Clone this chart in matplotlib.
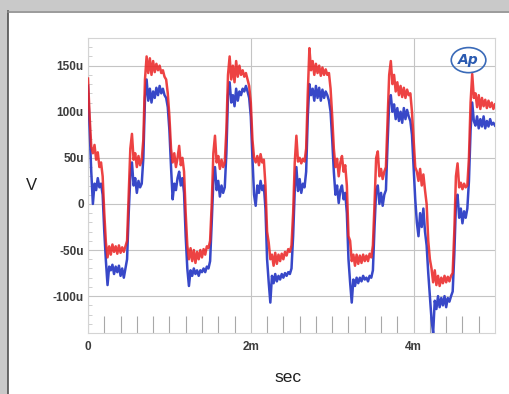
import numpy as np
import matplotlib
matplotlib.use("Agg")
import matplotlib.pyplot as plt
from matplotlib.patches import Rectangle, Ellipse

# time step between samples (ms)
dt_ms = 0.02

# red channel (uV), sampled every 0.02 ms from 0 to 5 ms
red = [
    136, 95, 62, 55, 64, 48, 56, 40, 45, 30,
    -10, -42, -58, -46, -55, -44, -52, -46, -54, -45,
    -53, -47, -52, -46, -40, 10, 60, 76, 48, 55,
    40, 52, 42, 48, 70, 135, 160, 142, 158, 140,
    155, 143, 152, 145, 150, 142, 145, 138, 135, 120,
    95, 60, 45, 55, 40, 50, 63, 42, 50, 35,
    -10, -45, -60, -48, -62, -50, -64, -52, -60, -50,
    -58, -49, -55, -46, -48, -40, 0, 55, 74, 45,
    52, 38, 48, 40, 45, 80, 140, 160, 135, 150,
    132, 155, 138, 150, 140, 145, 138, 142, 135, 128,
    110, 70, 50, 45, 52, 42, 54, 45, 48, 20,
    -30, -42, -60, -55, -67, -53, -65, -55, -62, -54,
    -60, -52, -56, -49, -52, -45, -10, 45, 74, 46,
    50, 44, 49, 46, 60, 120, 169, 145, 155, 140,
    152, 142, 150, 139, 148, 140, 146, 140, 142, 125,
    95, 60, 40, 49, 30, 45, 52, 35, 42, 20,
    -35, -40, -62, -55, -67, -55, -65, -56, -64, -55,
    -62, -56, -62, -54, -58, -45, 0, 50, 57, 30,
    38, 27, 35, 40, 90, 140, 155, 130, 140, 122,
    132, 118, 128, 116, 126, 115, 124, 118, 120, 100,
    70, 40, 35, 25, 38, 20, 32, 15, 0, -40,
    -60, -70, -85, -72, -88, -78, -89, -80, -86, -78,
    -85, -79, -84, -78, -75, -30, 30, 44, 18, 23,
    16, 22, 18, 20, 50, 110, 141, 115, 120, 105,
    118, 103, 115, 106, 113, 104, 112, 105, 110, 103,
    108,
]

# blue channel (uV)
blue = [
    128, 80, 35, 0, 22, 15, 28, 18, 22, 10,
    -30, -62, -88, -68, -72, -66, -76, -68, -74, -67,
    -78, -70, -80, -70, -60, -10, 30, 45, 20, 28,
    12, 25, 18, 22, 50, 115, 135, 112, 125, 110,
    122, 115, 126, 118, 128, 120, 125, 118, 115, 105,
    80, 40, 5, 22, 15, 28, 35, 20, 28, 12,
    -35, -70, -89, -72, -78, -70, -76, -72, -78, -72,
    -74, -70, -74, -68, -70, -62, -20, 25, 40, 15,
    25, 8, 20, 12, 18, 55, 118, 132, 110, 118,
    106, 125, 112, 122, 118, 125, 122, 128, 122, 115,
    95, 50, 10, -2, 20, 12, 25, 15, 20, -5,
    -60, -85, -107, -78, -86, -76, -84, -78, -82, -76,
    -80, -75, -78, -74, -76, -70, -35, 15, 40, 14,
    27, 12, 22, 18, 35, 95, 130, 118, 125, 112,
    128, 115, 126, 112, 124, 115, 122, 118, 112, 100,
    70, 35, 10, 20, 1, 15, 20, 5, 12, -10,
    -60, -85, -107, -82, -89, -80, -86, -80, -84, -78,
    -82, -80, -84, -78, -80, -72, -25, 15, 20, 0,
    12, -2, 10, 15, 65, 110, 118, 100, 108, 92,
    104, 90, 100, 88, 104, 92, 102, 95, 90, 75,
    40, 5, -20, -35, -10, -25, -5, -30, -45, -75,
    -100, -125, -140, -105, -114, -100, -112, -102, -110, -100,
    -112, -102, -106, -100, -95, -55, 0, 10, -15, -5,
    -21, -8, -15, -5, 25, 80, 110, 90, 85, 95,
    82, 92, 84, 95, 82, 90, 84, 92, 86, 88,
    85,
]

x_ticks = [0, 2, 4]
x_labels = ["0", "2m", "4m"]
y_ticks = [-100, -50, 0, 50, 100, 150]
y_labels = ["-100u", "-50u", "0", "50u", "100u", "150u"]

t = np.arange(len(red)) * dt_ms

fig = plt.figure(figsize=(5.10, 3.94), dpi=100)
fig.patch.set_facecolor("#c9c9c9")
# white panel
fig.patches.append(Rectangle((8 / 510, 0), 1 - 8 / 510, 1 - 11 / 394,
                             transform=fig.transFigure, facecolor="white",
                             edgecolor="none", zorder=-10))
fig.add_artist(plt.Line2D([8.5 / 510, 8.5 / 510], [0, 1 - 11 / 394],
                          transform=fig.transFigure, color="#505050", lw=1.2,
                          zorder=-5))
fig.add_artist(plt.Line2D([8 / 510, 1], [1 - 11.5 / 394, 1 - 11.5 / 394],
                          transform=fig.transFigure, color="#8a8a8a", lw=1.2,
                          zorder=-5))

ax = fig.add_axes([88 / 510, 1 - 333 / 394, (495 - 88) / 510, (333 - 38) / 394])
ax.set_zorder(5)
ax.set_facecolor("white")

ax.plot(t, blue, color="#3848c8", lw=1.8, zorder=3)
ax.plot(t, red, color="#ea2222", lw=1.8, alpha=0.85, zorder=4)

ax.set_xlim(0, 5)
ax.set_ylim(-140, 180)

ax.set_xticks(x_ticks)
ax.set_xticklabels(x_labels)
ax.set_yticks(y_ticks)
ax.set_yticklabels(y_labels)
ax.set_xticks(np.arange(0.2, 5.0, 0.2), minor=True)
ax.set_yticks(np.arange(-140, 181, 10), minor=True)

ax.tick_params(axis="both", which="major", length=0, labelsize=8.5,
               labelcolor="#3c3c3c")
ax.tick_params(axis="y", which="major", pad=3)
ax.tick_params(axis="x", which="major", pad=6)
ax.tick_params(axis="x", which="minor", direction="in", length=12,
               color="#a8a8a8", width=0.8)
ax.tick_params(axis="y", which="minor", direction="in", length=3,
               color="#c8c8c8", width=0.6)
for lab in ax.get_xticklabels() + ax.get_yticklabels():
    lab.set_fontweight("bold")
    lab.set_family("Liberation Sans")

ax.grid(True, which="major", axis="both", color="#c4c4c4", lw=0.8, zorder=1)
for s in ax.spines.values():
    s.set_color("#d4d4d4")
    s.set_linewidth(0.8)

fig.text(31 / 510, 1 - 186 / 394, "V", fontsize=12, ha="center", va="center",
         color="#202020", family="Liberation Sans")
fig.text(288 / 510, 1 - 378 / 394, "sec", fontsize=12.5, ha="center",
         va="center", color="#202020", family="Liberation Sans")

# AP logo
ax.add_patch(Ellipse((0.935, 0.925), 0.085, 0.085, transform=ax.transAxes,
                     fill=False, edgecolor="#3a6ab8", lw=1.2, zorder=5))
ax.text(0.933, 0.925, "Ap", transform=ax.transAxes, fontsize=10,
        fontstyle="italic", fontweight="bold", color="#2a5ab0",
        ha="center", va="center", zorder=6)

fig.savefig("out.png", dpi=100, facecolor=fig.get_facecolor())
